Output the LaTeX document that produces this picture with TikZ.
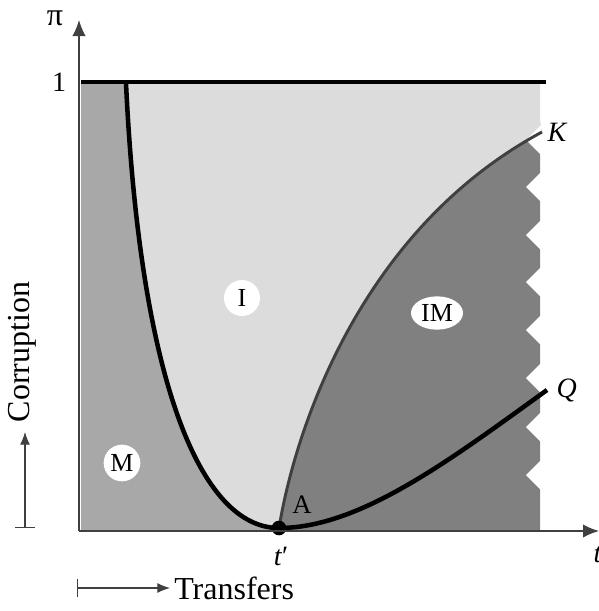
\documentclass[tikz,border=0pt]{standalone}
\usepackage{fontspec}
\setmainfont{Liberation Serif}
\usetikzlibrary{
    arrows.meta,
    positioning,
    shapes.geometric
}

\definecolor{lightzone}{HTML}{DCDCDC}
\definecolor{midzone}{HTML}{A8A8A8}
\definecolor{darkzone}{HTML}{808080}
\definecolor{kcurve}{HTML}{404040}

\begin{document}
\begin{tikzpicture}[
x=0.75pt, y=-0.75pt,
inner sep=1pt,
axis/.style={
draw=black!75,
line width=1.1pt
},
zone/.style={
fill=white,
inner sep=0pt,
font=\fontsize{19.5}{22}\selectfont
},
lbl/.style={
font=\fontsize{21}{24}\selectfont
},
big/.style={
font=\fontsize{24}{28}\selectfont
}
]

\useasboundingbox (0,0) rectangle (599,611);

\coordinate (O) at (79,531);
\coordinate (ytip) at (79,20);
\coordinate (xtip) at (599,531);
\coordinate (topL) at (81,82);
\coordinate (topR) at (546,82);
\coordinate (top) at (126,83);
\coordinate (A) at (279,528);
\coordinate (K) at (542,132);
\coordinate (Q) at (547,390);

% regions
\fill[midzone] (81,82) rectangle (540,531);

\fill[darkzone] (A) .. controls (295,430) and (360,230) .. (K)
-- (540,132) -- (540,531) -- (279,531) -- cycle;

\fill[lightzone] (top) .. controls (140,380) and (200,528) .. (A)
.. controls (295,430) and (360,230) .. (K)
-- (540,120) -- (540,82) -- cycle;

\foreach \ny in {140,187,235,282,330,378,427,475}
\fill[white] (541,\ny-15) -- (526,\ny) -- (541,\ny+15) -- cycle;

\draw[line width=3pt] (topL) -- (topR);

\draw[kcurve, line width=2.2pt]
(A) .. controls (295,430) and (360,230) .. (K);

\draw[line width=3.4pt]
(top) .. controls (140,380) and (200,528) .. (A)
.. controls (360,528) and (450,460) .. (Q);

\node[circle, fill=black, inner sep=0pt, minimum size=11pt] (dot) at (A) {};

% axes
\draw[axis, -{Latex[length=12pt,width=10pt]}] (O) -- (ytip);

\draw[axis, -{Latex[length=12pt,width=10pt]}] (O) -- (xtip);

\node[big] (pi) at (55,18) {π};
\node[lbl, left=10pt of topL] (one) {1};
\node[lbl, right=3pt of K] (klabel) {\textit{K}};
\node[lbl, right=6pt of Q] (qlabel) {\textit{Q}};
\node[lbl, font=\fontsize{20}{24}\selectfont] (alabel) at (302,505) {A};
\node[lbl] (tprime) at (281,556) {\textit{t}\char"2032};
\node[lbl, anchor=west] (tlabel) at (592,555) {\textit{t}};

% zones
\node[zone, circle, minimum size=27pt] (I) at (242,298) {I};
\node[zone, circle, minimum size=27.5pt] (M) at (122,463) {M};
\node[zone, ellipse, minimum width=39pt, minimum height=25pt] (IM) at (437,313) {IM};

% axis captions
\coordinate (cbase) at (25,528);
\coordinate (ctip) at (25,432);
\draw[axis, line width=0.8pt, {Bar[width=15pt]}-{Latex[length=9.5pt,width=7.5pt]}]
(cbase) -- (ctip);
\node[big, rotate=90] (corr) at (22,352) {Corruption};

\coordinate (tbase) at (77,588);
\coordinate (ttip) at (170,588);
\draw[axis, line width=0.8pt, {Bar[width=13pt]}-{Latex[length=9.5pt,width=7.5pt]}]
(tbase) -- (ttip);
\node[big, right=2pt of ttip] (transfers) {Transfers};

\end{tikzpicture}
\end{document}
